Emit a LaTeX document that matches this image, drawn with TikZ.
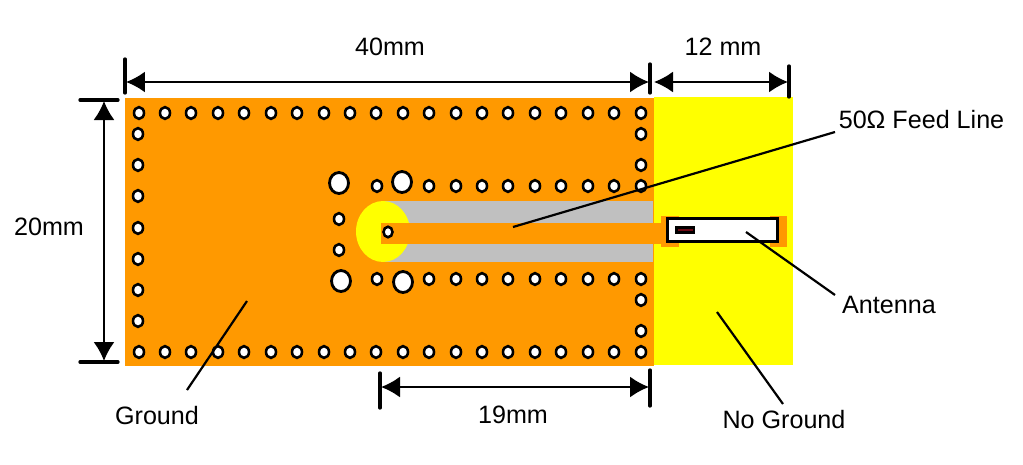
\documentclass[tikz,border=0pt]{standalone}
\usepackage{fontspec}
\setmainfont{Liberation Sans}
\usetikzlibrary{arrows.meta, shapes.geometric}
\definecolor{groundorange}{RGB}{255,153,0}
\definecolor{boardyellow}{RGB}{255,255,0}
\definecolor{slotgray}{RGB}{192,192,192}
\definecolor{chipred}{RGB}{110,10,20}

\begin{document}
\begin{tikzpicture}[x=0.02cm, y=-0.02cm,
      plate/.style={rectangle, inner sep=0pt, outer sep=0pt},
      hole/.style={ellipse, draw, fill=white, line width=1.45pt, inner sep=0pt, minimum width=0.2cm, minimum height=0.235cm},
      bighole/.style={hole, line width=1.6pt, minimum width=0.38cm, minimum height=0.42cm},
      label/.style={font=\fontsize{14.3}{16}\selectfont, inner sep=0pt},
      dim/.style={{Latex[length=0.38cm, width=0.42cm]}-{Latex[length=0.38cm, width=0.42cm]}, line width=1.05pt},
      tick/.style={line width=1.9pt, line cap=round},
      leader/.style={line width=1.25pt}]
      \useasboundingbox (0,0) rectangle (1023,464);

      % Board
      \node[plate, fill=groundorange, minimum width=10.58cm, minimum height=5.36cm] (ground) at (389.5,232) {};
      \node[plate, fill=boardyellow, minimum width=2.78cm, minimum height=5.36cm] (noground) at (723.5,231) {};

      % Slot and feed
      \node[plate, fill=slotgray, minimum width=5.46cm, minimum height=1.22cm] (slot) at (517,231.5) {};
      \node[ellipse, fill=boardyellow, inner sep=0pt, minimum width=1.08cm, minimum height=1.22cm] (stub) at (383,231.5) {};
      \node[plate, fill=groundorange, minimum width=5.72cm, minimum height=0.42cm] (feed) at (524,233) {};
      \node[plate, fill=groundorange, minimum width=0.36cm, minimum height=0.62cm] (padleft) at (670,231.5) {};
      \node[plate, fill=groundorange, minimum width=0.34cm, minimum height=0.62cm] (padright) at (778.5,231.5) {};

      % Antenna
      \node[plate, draw, fill=white, line width=1.9pt, minimum width=2.2cm, minimum height=0.46cm] (antenna) at (722.5,230) {};
      \node[plate, fill=black, minimum width=0.4cm, minimum height=0.17cm] (chip) at (685,230) {};
      \node[plate, fill=chipred, minimum width=0.3cm, minimum height=0.03cm] (chipline) at (685,230) {};

      % Vias
      \foreach \x in {139,165,191,218,244,271,297,324,350,376,403,429,456,482,508,535,561,588,614,641} {
        \node[hole] (top\x) at (\x,113) {};
        \node[hole] (bottom\x) at (\x,352) {};
      }
      \foreach \y in {134,165,196,228,259,290,321} {
        \node[hole] (left\y) at (138,\y) {};
      }
      \foreach \y in {134,165,300,331} {
        \node[hole] (right\y) at (641,\y) {};
      }
      \foreach \x in {377,429,456,482,508,535,561,588,614,641} {
        \node[hole] (slottop\x) at (\x,186) {};
        \node[hole] (slotbottom\x) at (\x,279) {};
      }
      \node[hole] (slotleft1) at (339,219) {};
      \node[hole] (slotleft2) at (339,250) {};
      \node[hole, minimum width=0.18cm, minimum height=0.21cm] (feedvia) at (388,232) {};
      \node[bighole] (big1) at (339,183) {};
      \node[bighole] (big2) at (402,182) {};
      \node[bighole] (big3) at (341,281) {};
      \node[bighole] (big4) at (403,282) {};

      % Dimensions
      \coordinate (a1) at (125,59);  \coordinate (a2) at (125,93);
      \coordinate (b1) at (650,64);  \coordinate (b2) at (650,93);
      \coordinate (c1) at (789,66);  \coordinate (c2) at (789,97);
      \coordinate (d1) at (80,100);  \coordinate (d2) at (118,100);
      \coordinate (e1) at (80,362);  \coordinate (e2) at (118,362);
      \coordinate (f1) at (380,373); \coordinate (f2) at (380,408);
      \coordinate (g1) at (650,370); \coordinate (g2) at (650,406);
      \foreach \p in {a,b,c,d,e,f,g} {
        \draw[tick] (\p1) -- (\p2);
      }
      \draw[dim] (126,82) coordinate (s1) -- (649,82) coordinate (s2);
      \draw[dim] (654,82) coordinate (s3) -- (788,82) coordinate (s4);
      \draw[dim] (104,101) coordinate (s5) -- (104,361) coordinate (s6);
      \draw[dim] (381,387) coordinate (s7) -- (649,387) coordinate (s8);

      % Labels
      \node[label] (len40) at (390,47) {40mm};
      \node[label] (len12) at (723,47) {12 mm};
      \node[label] (len20) at (49,227) {20mm};
      \node[label] (len19) at (513,415) {19mm};
      \node[label] (feedtxt) at (921.5,120) {50Ω Feed Line};
      \node[label] (anttxt) at (889,305) {Antenna};
      \node[label] (nogtxt) at (784,420) {No Ground};
      \node[label] (gndtxt) at (157,416) {Ground};

      % Leaders
      \coordinate (feedend) at (513,227);
      \coordinate (feedstart) at (835,132);
      \coordinate (antend) at (746,232);
      \coordinate (antstart) at (835,295);
      \coordinate (nogend) at (717,312);
      \coordinate (nogstart) at (783,404);
      \coordinate (gndend) at (247,301);
      \coordinate (gndstart) at (187,390);
      \draw[leader] (feedstart) -- (feedend);
      \draw[leader] (antstart) -- (antend);
      \draw[leader] (nogstart) -- (nogend);
      \draw[leader] (gndstart) -- (gndend);
    \end{tikzpicture}
\end{document}
